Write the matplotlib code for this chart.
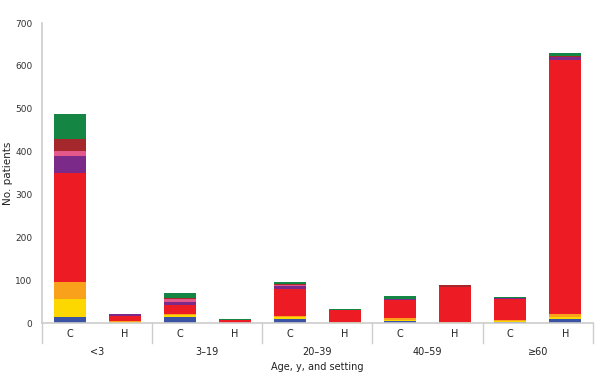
import matplotlib
matplotlib.use("Agg")
import matplotlib.pyplot as plt
import matplotlib.transforms as mtransforms
import numpy as np

groups = ["<3", "3–19", "20–39", "40–59", "≥60"]
settings = ["C", "H"]
# bar order: <3 C, <3 H, 3–19 C, 3–19 H, ...
blue    = [14, 0, 14, 0, 10, 0, 5, 0, 2, 10]
yellow  = [42, 2, 5, 0, 4, 1, 3, 0, 2, 5]
orange  = [40, 3, 3, 1, 3, 2, 3, 2, 2, 5]
red     = [254, 12, 20, 7, 62, 27, 42, 82, 50, 595]
purple  = [40, 3, 8, 0, 7, 0, 2, 0, 3, 5]
pink    = [11, 0, 5, 0, 2, 0, 0, 0, 0, 2]
darkred = [28, 2, 3, 0, 2, 0, 0, 4, 0, 2]
green   = [60, 0, 12, 2, 5, 3, 8, 0, 2, 6]

series = [blue, yellow, orange, red, purple, pink, darkred, green]
colors = ["#3a53a4", "#fdd800", "#f9a11b", "#ed1c24", "#7b2a8a",
          "#e4578a", "#a4282c", "#148542"]

fig = plt.figure(figsize=(6, 3.85), dpi=100)
ax = fig.add_axes([0.07, 0.161, 0.918, 0.779])

n = len(groups) * 2
x = np.array([g * 2 + 0.5 + s for g in range(len(groups)) for s in range(2)])
bottom = np.zeros(n)
for vals, c in zip(series, colors):
    ax.bar(x, vals, width=0.58, bottom=bottom, color=c, edgecolor="none")
    bottom += np.array(vals)

ax.set_xlim(0, 10)
ax.set_ylim(0, 700)
ax.set_yticks(range(0, 701, 100))
ax.tick_params(axis="y", labelsize=6.5, length=0, pad=7, colors="#333333")
ax.set_xticks([])
for sp in ["top", "right"]:
    ax.spines[sp].set_visible(False)
for sp in ["left", "bottom"]:
    ax.spines[sp].set_color("#cccccc")
    ax.spines[sp].set_linewidth(1.2)

trans = mtransforms.blended_transform_factory(ax.transData, ax.transAxes)
# group separators extending below axis
for b in range(0, 11, 2):
    ax.plot([b, b], [0, -0.066], transform=trans, color="#cccccc", lw=1.0, clip_on=False)
for i, xi in enumerate(x):
    ax.text(xi, -0.035, settings[i % 2], transform=trans, ha="center", va="center",
            fontsize=7, color="#222222")
for g, name in enumerate(groups):
    ax.text(g * 2 + 1, -0.096, name, transform=trans, ha="center", va="center",
            fontsize=7, color="#222222")
ax.text(5, -0.148, "Age, y, and setting", transform=trans, ha="center", va="center",
        fontsize=7, color="#222222")
ax.text(-0.062, 0.5, "No. patients", transform=ax.transAxes, rotation=90,
        ha="center", va="center", fontsize=7.5, color="#222222")

fig.savefig("out.png", dpi=100)
